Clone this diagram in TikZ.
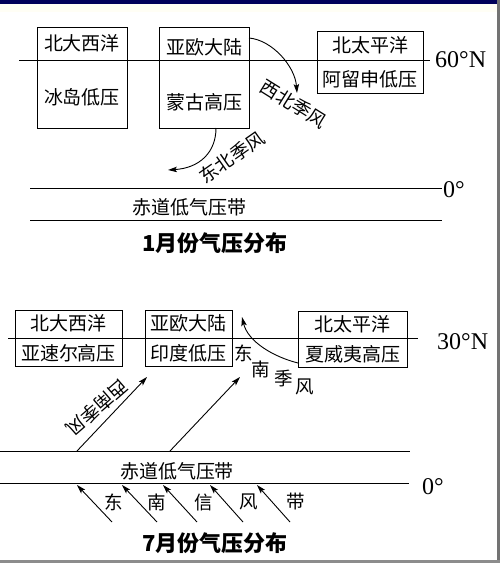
\documentclass[tikz,border=0pt]{standalone}
\usepackage{fontspec}
\setmainfont{Liberation Serif}
\newfontfamily\cjk{Noto Sans CJK SC}
\newfontfamily\cjkb{Noto Sans CJK SC}[BoldFont={* Bold}]
\usetikzlibrary{arrows.meta}
\tikzset{
  box/.style={draw, line width=1pt, inner sep=0pt},
  lbl/.style={font=\cjk\fontsize{19}{20}\selectfont, inner sep=0pt},
  wlbl/.style={font=\cjk\fontsize{18.5}{20}\selectfont, inner sep=0pt},
  lat/.style={font=\fontsize{24}{24}\selectfont, inner sep=0pt},
  ttl/.style={font=\cjk\fontsize{22}{22}\selectfont, inner sep=0pt},
  rule/.style={line width=1pt},
  wind/.style={line width=0.9pt, -{Stealth[length=9pt,width=5.5pt,inset=2pt]}},
}
\begin{document}
\begin{tikzpicture}[x=1pt,y=-1pt]
\useasboundingbox (0,0) rectangle (500,563);
% frame
\fill[white] (0,0) rectangle (500,563);
\fill[black!3!yellow!4] (0,4) rectangle (497,12);
\fill[blue!35!black] (0,0) rectangle (500,4);
\fill[black!55] (497,0) rectangle (500,563);
\fill[black!45] (0,560) rectangle (500,563);

% ===== January =====
\draw[rule] (19,60) coordinate (l60a) -- (430,60) coordinate (l60b);
\node[lat, anchor=west] (n60) at (435,60) {60°N};
\node[box, minimum width=90pt, minimum height=101pt] (b1) at (82,77.5) {};
\node[box, minimum width=90pt, minimum height=101pt] (b2) at (204,77.5) {};
\node[box, minimum width=106pt, minimum height=62pt] (b3) at (370,62) {};
\node[lbl] (t1a) at (82,43) {北大西洋};
\node[lbl] (t1b) at (82,97) {冰岛低压};
\node[lbl] (t2a) at (204,47) {亚欧大陆};
\node[lbl] (t2b) at (204,102) {蒙古高压};
\node[lbl] (t3a) at (370,45) {北太平洋};
\node[lbl] (t3b) at (370,79) {阿留申低压};
% winds
\coordinate (nwS) at (249,38);
\coordinate (nwE) at (297,93);
\draw[wind] (nwS) .. controls (272,40) and (295,66) .. (nwE);
\node[wlbl, rotate=-32] (nwl) at (294,104) {西北季风};
\coordinate (neS) at (216,128);
\coordinate (neE) at (168,170);
\draw[wind] (neS) .. controls (216,152) and (200,168) .. (neE);
\node[wlbl, rotate=35] (nel) at (232,157) {东北季风};
% equator
\draw[rule] (30,188) -- (442,188);
\node[lat, anchor=west] (n0a) at (443,190) {0°};
\node[lbl] (eq1) at (189,207) {赤道低气压带};
\draw[rule] (30,220) -- (442,220);
\node[ttl] (ttl1) at (215,243) {\textbf{1}\textbf{月份气压分布}};

% ===== July =====
\draw[rule] (8,338) -- (418,338);
\node[lat, anchor=west] (n30) at (437,342) {30°N};
\node[box, minimum width=107pt, minimum height=56pt] (b4) at (68.5,338) {};
\node[box, minimum width=87pt, minimum height=56pt] (b5) at (188.5,338) {};
\node[box, minimum width=109pt, minimum height=56pt] (b6) at (352.5,339.5) {};
\node[lbl] (t4a) at (68.5,323) {北大西洋};
\node[lbl] (t4b) at (68.5,353) {亚速尔高压};
\node[lbl] (t5a) at (188.5,323) {亚欧大陆};
\node[lbl] (t5b) at (188.5,353) {印度低压};
\node[lbl] (t6a) at (352.5,324) {北太平洋};
\node[lbl] (t6b) at (352.5,354) {夏威夷高压};
% SE monsoon
\coordinate (seS) at (298,363);
\coordinate (seE) at (242,317);
\draw[wind] (seS) .. controls (274,357) and (248,342) .. (seE);
\node[wlbl] (se1) at (244,353) {东};
\node[wlbl] (se2) at (261,369) {南};
\node[wlbl] (se3) at (284,378) {季};
\node[wlbl] (se4) at (305,387) {风};
% SW monsoon
\coordinate (sw1S) at (77,451);
\coordinate (sw1E) at (147,377);
\draw[wind] (sw1S) -- (sw1E);
\node[wlbl, rotate=-139] (swl) at (97,408) {西南季风};
\coordinate (sw2S) at (170,451);
\coordinate (sw2E) at (240,377);
\draw[wind] (sw2S) -- (sw2E);
% equator
\draw[rule] (0,451) -- (410,451);
\node[lbl] (eq2) at (177,471) {赤道低气压带};
\draw[rule] (0,483) -- (409,483);
\node[lat, anchor=west] (n0b) at (422,487) {0°};
% SE trades
\foreach \i/\xt/\xs in {1/77/112, 2/122/157, 3/163/197, 4/210/243, 5/257/290} {
  \coordinate (tS\i) at (\xs,522);
  \coordinate (tE\i) at (\xt,485);
  \draw[wind] (tS\i) -- (tE\i);
}
\node[wlbl] (tr1) at (114,502) {东};
\node[wlbl] (tr2) at (157,502) {南};
\node[wlbl] (tr3) at (204,502) {信};
\node[wlbl] (tr4) at (249,502) {风};
\node[wlbl] (tr5) at (296,502) {带};
\node[ttl] (ttl2) at (215,543) {\textbf{7}\textbf{月份气压分布}};
\end{tikzpicture}
\end{document}
